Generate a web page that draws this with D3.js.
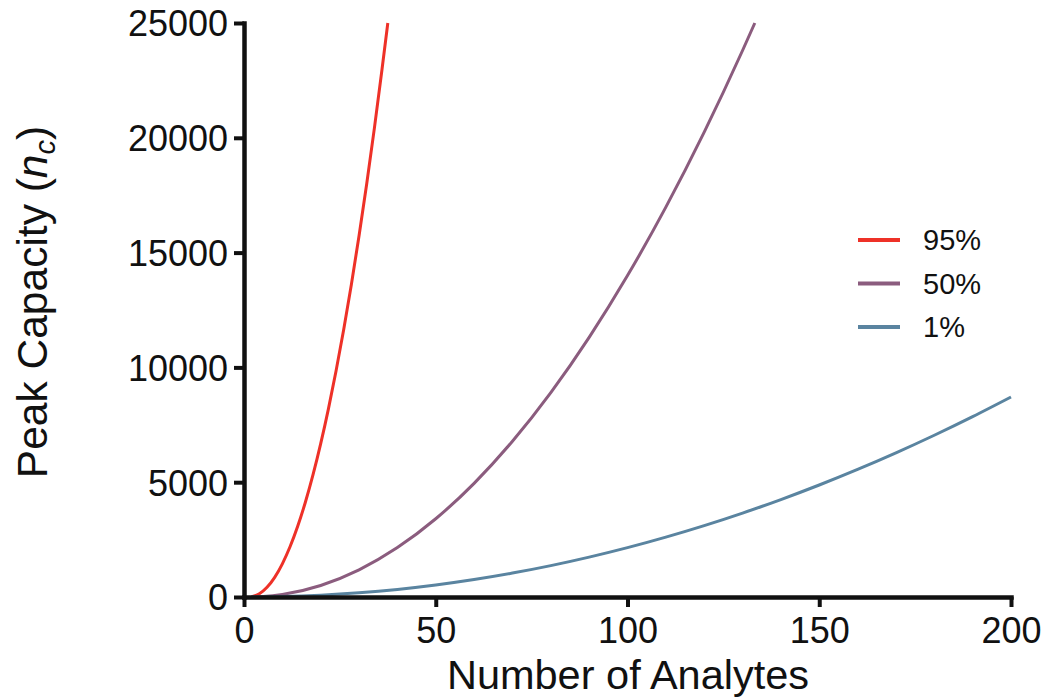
<!DOCTYPE html>
<html>
<head>
<meta charset="utf-8">
<script src="https://cdn.jsdelivr.net/npm/d3@7"></script>
<style>
  body { margin: 0; background: #fff; }
  svg { font-family: "Liberation Sans", Arial, sans-serif; }
</style>
</head>
<body>
<svg id="chart" width="1044" height="698"></svg>
<script>
// values
const analytes95 = [2, 4, 6, 8, 10, 12, 14, 16, 18, 20, 22, 24, 26, 28, 30, 32, 34, 36, 37.5];
const capacity95 = [9, 139, 422, 857, 1446, 2187, 3081, 4127, 5327, 6679, 8184, 9842, 11653, 13616, 15732, 18002, 20423, 22998, 25000];

const analytes50 = [2, 5, 10, 20, 30, 40, 50, 60, 70, 80, 90, 100, 110, 120, 130, 133.2];
const capacity50 = [1, 20, 109, 503, 1184, 2152, 3408, 4951, 6782, 8900, 11306, 13999, 16979, 20247, 23802, 25000];

const analytes1 = [2, 10, 20, 30, 40, 50, 60, 70, 80, 90, 100, 110, 120, 130, 140, 150, 160, 170, 180, 190, 200];
const capacity1 = [0, 17, 77, 182, 330, 523, 760, 1041, 1366, 1736, 2149, 2607, 3108, 3654, 4244, 4878, 5556, 6278, 7045, 7855, 8710];

const seriesNames = ['95%', '50%', '1%'];
const seriesColors = ['#ee3128', '#8b5c7e', '#5a84a0'];
const xTicks = [0, 50, 100, 150, 200];
const yTicks = [0, 5000, 10000, 15000, 20000, 25000];

const series = [
  {name: seriesNames[0], color: seriesColors[0], xs: analytes95, ys: capacity95},
  {name: seriesNames[1], color: seriesColors[1], xs: analytes50, ys: capacity50},
  {name: seriesNames[2], color: seriesColors[2], xs: analytes1, ys: capacity1}
];

const svg = d3.select('#chart');

const x = d3.scaleLinear().domain([0, 200]).range([244, 1011]);
const y = d3.scaleLinear().domain([0, 25000]).range([597, 23]);

const line = d3.line()
  .x(d => x(d[0]))
  .y(d => y(d[1]))
  .curve(d3.curveMonotoneX);

svg.selectAll('.curve')
  .data(series)
  .join('path')
  .attr('class', 'curve')
  .attr('d', s => line(s.xs.map((v, i) => [v, s.ys[i]])))
  .attr('fill', 'none')
  .attr('stroke', s => s.color)
  .attr('stroke-width', 3);

// axes
const xAxis = d3.axisBottom(x).tickValues(xTicks).tickSize(10).tickSizeOuter(0).tickPadding(10);
const yAxis = d3.axisLeft(y).tickValues(yTicks).tickFormat(d3.format('d')).tickSize(10).tickSizeOuter(0).tickPadding(6);

const gx = svg.append('g').attr('transform', 'translate(0,597)').call(xAxis);
const gy = svg.append('g').attr('transform', 'translate(244,0)').call(yAxis);

[gx, gy].forEach(g => {
  g.select('.domain').attr('stroke', '#111').attr('stroke-width', 4.5).attr('stroke-linecap', 'square');
  g.selectAll('.tick line').attr('stroke', '#111').attr('stroke-width', 4);
  g.selectAll('.tick text').attr('fill', '#111').style('font-size', '36px').style('font-family', '"Liberation Sans", Arial, sans-serif');
});
gy.selectAll('.tick text').attr('dy', '0.36em');
gx.selectAll('.tick text').attr('dy', '0.72em');

// axis titles
svg.append('text')
  .attr('x', 628)
  .attr('y', 689)
  .attr('text-anchor', 'middle')
  .style('font-size', '41.5px')
  .attr('fill', '#111')
  .text('Number of Analytes');

const yt = svg.append('text')
  .attr('transform', 'translate(47,302) rotate(-90)')
  .attr('text-anchor', 'middle')
  .style('font-size', '42.5px')
  .attr('fill', '#111');
yt.append('tspan').text('Peak Capacity (');
yt.append('tspan').style('font-style', 'italic').text('n');
yt.append('tspan').style('font-style', 'italic').style('font-size', '29px').attr('dy', 8).text('c');
yt.append('tspan').attr('dy', -8).text(')');

// legend
const legend = svg.append('g').selectAll('g')
  .data(series)
  .join('g')
  .attr('transform', (d, i) => `translate(858,${240 + i * 43.5})`);

legend.append('line')
  .attr('x1', 0).attr('x2', 42)
  .attr('stroke', d => d.color)
  .attr('stroke-width', 4);

legend.append('text')
  .attr('x', 65)
  .attr('dy', '0.36em')
  .style('font-size', '29px')
  .attr('fill', '#111')
  .text(d => d.name);
</script>
</body>
</html>
